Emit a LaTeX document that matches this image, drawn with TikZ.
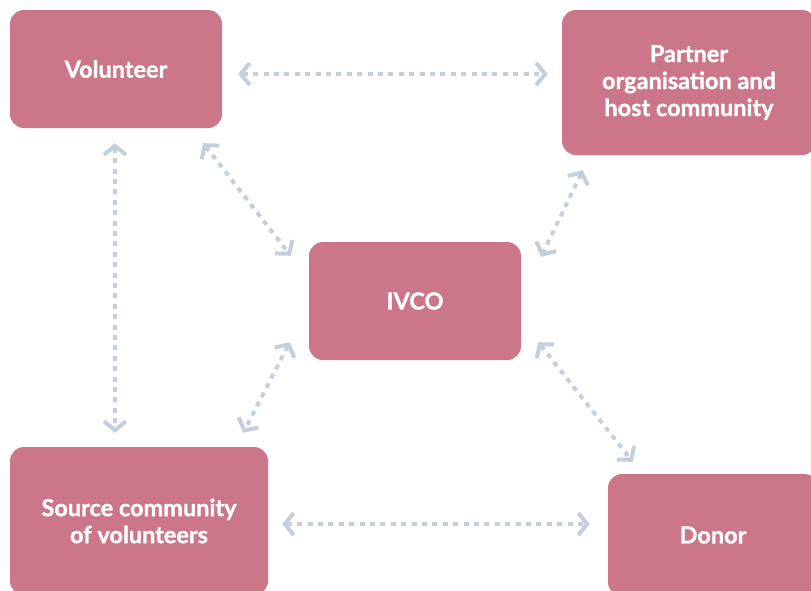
\documentclass[tikz,border=0pt]{standalone}
\usepackage{fontspec}
\setmainfont{Lato}[BoldFeatures={FakeBold=1.2}]
\usetikzlibrary{arrows.meta}

\definecolor{boxpink}{HTML}{CC7689}
\definecolor{linkgrey}{HTML}{C5CFDB}

\tikzset{
  box/.style={fill=boxpink, rounded corners=14pt, text=white, align=center,
    font=\fontsize{23.5}{27}\selectfont\bfseries, inner sep=0pt},
  link/.style={draw=linkgrey, line width=4pt, dash pattern=on 5pt off 5.4pt,
    {Straight Barb[length=9pt,width=22pt,line width=4pt]}-{Straight Barb[length=9pt,width=22pt,line width=4pt]}}
}

\begin{document}
\begin{tikzpicture}[x=1pt,y=-1pt]

\clip (0,0) rectangle (811,590);

\node[box, minimum width=212pt, minimum height=118pt] (vol) at (116,69) {Volunteer};
\node[box, minimum width=254pt, minimum height=145pt] (partner) at (689,82.5) {Partner\\organisation and\\host community};
\node[box, minimum width=212pt, minimum height=118pt] (ivco) at (415,301) {IVCO};
\node[box, minimum width=258pt, minimum height=148pt] (src) at (139,521) {Source community\\of volunteers};
\node[box, minimum width=210pt, minimum height=122pt] (donor) at (713,535) {Donor};

% links between the partners
\draw[link] ([shift={(16,5)}]vol.east) -- ([shift={(-14,-8.5)}]partner.west);
\draw[link] ([shift={(-1,15)}]vol.south) -- ([shift={(-24,-14)}]src.north);
\draw[link] ([shift={(-19,15)}]vol.south east) -- ([shift={(-18,14)}]ivco.north west);
\draw[link] ([shift={(21,15)}]partner.south west) -- ([shift={(20,15)}]ivco.north east);
\draw[link] ([shift={(-19,-18)}]ivco.south west) -- ([shift={(-25,-14)}]src.north east);
\draw[link] ([shift={(17,-18)}]ivco.south east) -- ([shift={(25,-12)}]donor.north west);
\draw[link] ([shift={(14,3)}]src.east) -- ([shift={(-18,-11)}]donor.west);

\end{tikzpicture}
\end{document}
